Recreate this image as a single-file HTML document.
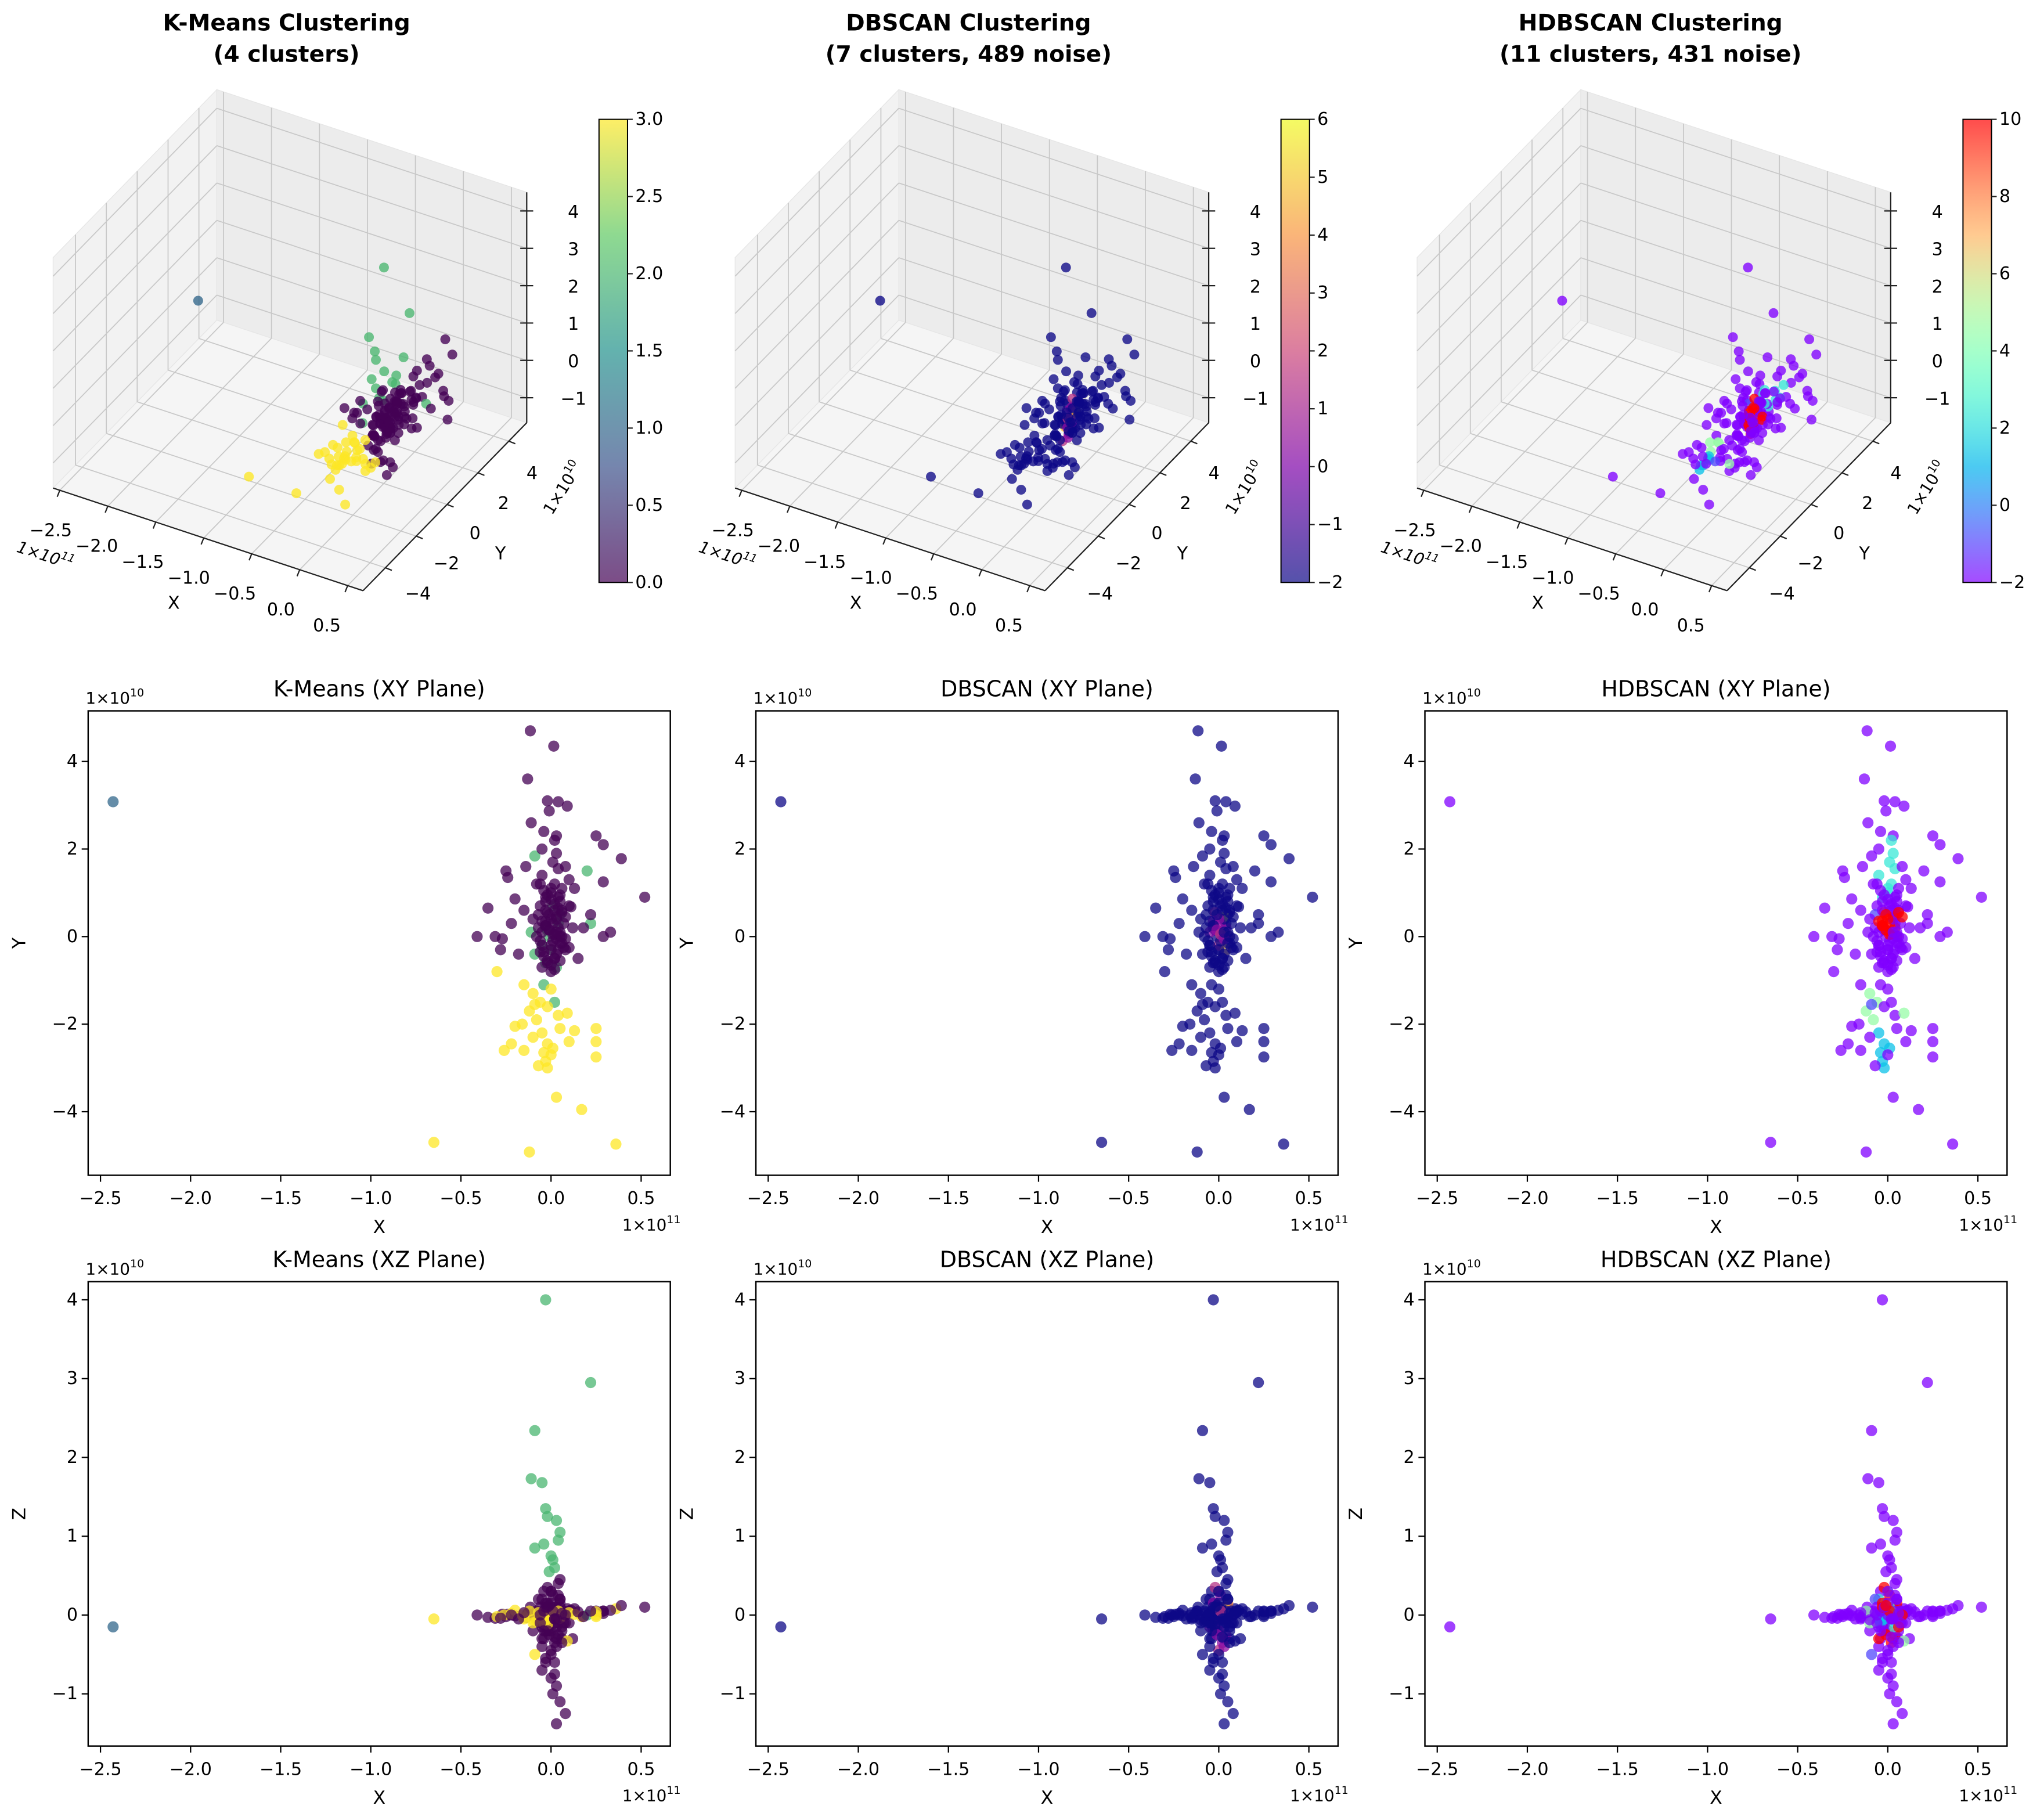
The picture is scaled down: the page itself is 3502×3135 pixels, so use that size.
<!DOCTYPE html>
<html><head><meta charset="utf-8"><title>Clustering comparison</title>
<style>html,body{margin:0;padding:0;background:#fff}svg{display:block}text{font-family:"DejaVu Sans","Liberation Sans",sans-serif;fill:#000}</style>
</head><body>
<svg id="fig" xmlns="http://www.w3.org/2000/svg" width="3502" height="3135" viewBox="0 0 1568 1403" preserveAspectRatio="none"><defs id="defs"></defs></svg>
<script>
// ---- data (x in 1e11, y and z in 1e10) ----
const xs = [-0.03,0.22,-0.09,-0.11,-0.05,-0.02,0.03,0.05,-0.04,0.00,-0.09,0.02,-0.01,0.04,-0.03,0.01,
 -2.43,-0.65,-0.12,0.36,0.17,0.03,-0.115,0.015,-0.13,-0.02,0.04,0.09,-0.01,-0.04,0.03,0.25,0.29,0.39,0.52,0.20,-0.25,-0.24,-0.14,0.29,-0.20,-0.35,-0.31,-0.41,-0.27,0.29,0.11,0.13,
 -0.05,0.02,0.00,-0.03,0.05,-0.06,0.06,-0.07,-0.02,0.03,-0.03,0.01,0.04,-0.01,0.02,0.05,-0.05,0.07,-0.07,-0.06,0.06,0.00,0.04,-0.04,0.08,-0.08,0.02,-0.02,0.05,-0.05,0.00,0.03,0.01,0.05,0.02,0.08,0.03,-0.03,0.10,0.10,0.12,-0.10,0.00,-0.03,
 0.02,0.03,0.01,0.04,0.00,-0.05,0.08,-0.08,0.10,-0.11,
 -0.30,-0.15,-0.10,-0.06,-0.12,-0.08,0.00,-0.02,0.04,-0.16,-0.05,-0.02,-0.04,-0.03,-0.02,0.01,-0.22,-0.15,-0.20,0.05,0.13,0.10,0.25,0.25,0.25,-0.26,-0.10,0.00,-0.07,-0.09,0.09,
 -0.06,-0.04,-0.02,0.00,0.02,0.04,0.06,0.08,-0.05,-0.03,-0.01,0.01,0.03,0.05,0.07,-0.06,-0.04,-0.02,0.00,0.02,0.04,0.06,-0.03,0.00,0.03,0.05,-0.05,-0.01,0.02,0.06,
 -0.22,-0.18,-0.15,0.15,0.18,0.22,0.33,-0.28];
const ys = [0.20,0.30,-0.40,0.10,-0.20,0.15,-0.70,0.50,-1.10,-0.30,1.84,-1.50,0.00,0.30,-0.60,0.70,
 3.08,-4.70,-4.92,-4.74,-3.95,-3.67,4.70,4.35,3.60,3.10,3.08,2.98,2.87,2.40,2.30,2.30,2.10,1.78,0.90,1.50,1.50,1.35,1.60,1.25,0.86,0.65,0.00,0.00,-0.05,0.00,0.68,1.10,
 1.40,1.20,1.00,0.90,0.95,0.70,0.60,0.50,0.55,0.45,0.35,0.30,0.20,0.15,0.05,0.00,0.10,0.30,0.20,-0.10,-0.15,-0.20,-0.30,-0.35,-0.05,0.00,-0.50,-0.60,-0.55,-0.70,-0.80,-0.40,-0.10,0.10,0.60,-0.30,0.40,0.80,0.70,-0.25,0.20,0.40,0.40,0.25,
 2.20,1.90,1.70,1.55,1.10,2.00,1.60,1.20,1.30,2.60,
 -0.80,-1.10,-1.30,-1.50,-1.70,-1.90,-1.20,-1.60,-1.80,-2.00,-2.20,-2.45,-2.65,-2.85,-3.00,-2.55,-2.45,-2.60,-2.05,-2.10,-2.15,-2.40,-2.10,-2.40,-2.75,-2.60,-2.30,-2.70,-2.95,-1.55,-1.75,
 1.20,1.05,0.95,0.85,0.75,0.65,0.55,0.45,0.35,0.25,0.15,0.05,-0.05,-0.15,-0.25,-0.35,-0.45,-0.55,-0.65,-0.75,0.90,1.10,0.60,-0.30,0.10,0.80,-0.20,0.50,-0.50,0.00,
 0.30,-0.40,0.60,-0.50,0.20,0.50,0.10,-0.30];
const zs = [4.00,2.95,2.34,1.73,1.68,1.25,1.20,1.05,0.90,0.75,0.85,0.60,0.55,0.95,1.35,0.70,
 -0.15,-0.05,0.05,0.08,-0.02,0.03,0.10,-0.05,0.02,0.15,-0.10,0.08,-0.20,0.30,-0.30,0.05,0.02,0.12,0.10,0.00,-0.02,0.01,-0.03,0.05,-0.01,-0.03,-0.04,0.00,0.01,0.05,0.06,0.08,
 0.20,-0.10,0.30,-0.20,0.10,0.00,-0.30,0.20,0.35,0.10,-0.10,0.25,-0.25,0.00,-0.35,0.15,-0.15,0.05,-0.05,0.10,-0.20,-0.45,0.00,-0.30,-0.10,0.05,-0.60,-0.15,0.20,-0.40,-0.80,-0.90,-1.00,-1.10,-0.75,-1.25,-1.38,-0.55,-0.10,0.05,-0.30,-0.20,-0.20,0.15,
 0.05,-0.15,0.10,-0.05,0.00,-0.10,0.00,-0.05,0.04,0.00,
 -0.02,-0.05,-0.10,0.00,0.05,-0.08,0.00,-0.12,0.05,0.00,-0.05,0.02,-0.10,0.00,-0.05,0.05,0.02,-0.03,0.06,-0.04,0.01,0.03,0.00,-0.02,0.04,0.00,-0.06,0.00,0.03,-0.50,-0.33,
 -0.10,0.05,-0.20,0.15,-0.05,0.25,-0.15,0.00,-0.30,0.10,-0.25,0.05,-0.40,0.20,-0.10,0.00,-0.20,0.10,-0.50,-0.05,0.40,-0.35,-0.60,0.30,-0.05,0.45,-0.70,0.12,-0.28,0.02,
 0.00,-0.05,0.03,0.04,-0.02,0.05,0.06,-0.04];
const kmLabels = [2,2,2,2,2,2,2,2,2,2,2,2,2,2,2,2,
 1,3,3,3,3,3,0,0,0,0,0,0,0,0,0,0,0,0,0,2,0,0,0,0,0,0,0,0,0,0,0,0,
 0,0,0,0,0,0,0,0,0,0,0,0,0,0,0,0,0,0,0,0,0,0,0,0,0,0,0,0,0,0,0,0,0,0,0,0,0,0,0,0,0,0,0,0,
 0,0,0,0,0,0,0,0,0,0,
 3,3,3,3,3,3,3,3,3,3,3,3,3,3,3,3,3,3,3,3,3,3,3,3,3,3,3,3,3,3,3,
 0,0,0,0,0,0,0,0,0,0,0,0,0,0,0,0,0,0,0,0,0,0,0,0,0,0,0,0,0,0,
 0,0,0,0,0,0,0,0];
const dbLabels = [-1,-1,-1,-1,-1,-1,-1,-1,-1,-1,-1,-1,-1,-1,-1,-1,
 -1,-1,-1,-1,-1,-1,-1,-1,-1,-1,-1,-1,-1,-1,-1,-1,-1,-1,-1,-1,-1,-1,-1,-1,-1,-1,-1,-1,-1,-1,-1,-1,
 -1,-1,-1,-1,-1,-1,-1,-1,2,6,1,1,1,2,1,4,1,-1,-1,-1,-1,2,5,-1,-1,-1,-1,-1,-1,-1,-1,-1,-1,-1,-1,-1,-1,-1,-1,-1,-1,-1,1,1,
 -1,-1,-1,-1,-1,-1,-1,-1,-1,-1,
 -1,-1,-1,-1,-1,-1,-1,-1,-1,-1,-1,-1,-1,-1,-1,-1,-1,-1,-1,-1,-1,-1,-1,-1,-1,-1,-1,-1,-1,-1,-1,
 -1,-1,-1,-1,-1,-1,-1,-1,-1,-1,1,2,1,-1,-1,-1,-1,-1,-1,-1,-1,-1,-1,-1,-1,-1,-1,-1,-1,-1,
 -1,-1,-1,-1,-1,-1,-1,-1];
const hdbLabels = [-1,-1,-1,-1,-1,-1,-1,-1,-1,-1,-1,-1,-1,-1,-1,-1,
 -1,-1,-1,-1,-1,-1,-1,-1,-1,-1,-1,-1,-1,-1,-1,-1,-1,-1,-1,-1,-1,-1,-1,-1,-1,-1,-1,-1,-1,-1,-1,-1,
 3,3,3,3,-1,-1,-1,0,10,10,10,10,10,10,10,10,-1,-1,-1,-1,-1,-1,-1,-1,-1,-1,-1,-1,-1,-1,-1,-1,-1,-1,-1,-1,-1,-1,-1,-1,-1,-1,10,10,
 3,3,3,3,3,-1,-1,-1,-1,-1,
 -1,-1,5,5,5,5,-1,-1,-1,-1,2,2,2,2,2,2,-1,-1,-1,-1,-1,-1,-1,-1,-1,-1,-1,-1,-1,0,5,
 -1,-1,-1,-1,-1,-1,10,10,10,10,10,10,-1,-1,-1,-1,-1,-1,-1,-1,-1,-1,-1,-1,-1,-1,-1,10,-1,-1,
 -1,-1,-1,-1,-1,-1,-1,-1];
const xTicks = [-2.5,-2.0,-1.5,-1.0,-0.5,0.0,0.5];
const yTicks = [-4,-2,0,2,4];
const zTicks = [-1,0,1,2,3,4];
const kmCbTicks = [0.0,0.5,1.0,1.5,2.0,2.5,3.0];
const dbCbTicks = [-2,-1,0,1,2,3,4,5,6];
const hdbCbTicks = [-2,0,2,4,6,8,10];
const methodTitles = ["K-Means Clustering","DBSCAN Clustering","HDBSCAN Clustering"];
const methodSubtitles = ["(4 clusters)","(7 clusters, 489 noise)","(11 clusters, 431 noise)"];
const methodShort = ["K-Means","DBSCAN","HDBSCAN"];

// ---- colormaps ----
function lerpStops(stops,t){t=Math.max(0,Math.min(1,t));for(let i=0;i<stops.length-1;i++){const a=stops[i],b=stops[i+1];if(t<=b[0]){const f=(t-a[0])/(b[0]-a[0]);return [0,1,2].map(k=>Math.round(a[1][k]+(b[1][k]-a[1][k])*f));}}return stops[stops.length-1][1];}
const VIR=[[0,[68,1,84]],[0.25,[59,82,139]],[0.5,[33,145,140]],[0.75,[94,201,98]],[1,[253,231,37]]];
const PLA=[[0,[13,8,135]],[0.25,[126,3,168]],[0.5,[204,71,120]],[0.75,[248,149,64]],[1,[240,249,33]]];
function rgb(a){return 'rgb('+a.join(',')+')';}
function viridis(t){return rgb(lerpStops(VIR,t));}
function plasma(t){return rgb(lerpStops(PLA,t));}
function rainbow(t){t=Math.max(0,Math.min(1,t));const c=v=>Math.round(255*Math.max(0,Math.min(1,v)));return rgb([c(Math.abs(2*t-0.5)),c(Math.sin(Math.PI*t)),c(Math.cos(Math.PI/2*t))]);}
const labelSets=[kmLabels,dbLabels,hdbLabels];
function colorFor(m,v){if(m===0)return viridis(v/3);if(m===1)return plasma((v+1)/7);return rainbow((v+1)/11);}
const cbFuncs=[viridis,plasma,rainbow];
const cbTickSets=[kmCbTicks,dbCbTicks,hdbCbTicks];
const cbRanges=[[0,3],[-2,6],[-2,10]];

const NS='http://www.w3.org/2000/svg';
const svg=document.getElementById('fig');
const defs=document.getElementById('defs');
function mk(tag,attrs,parent){const e=document.createElementNS(NS,tag);for(const k in attrs)e.setAttribute(k,attrs[k]);(parent||svg).appendChild(e);return e;}
function fmt(v,d){const s=Math.abs(v).toFixed(d);return (v<0?'\u2212':'')+s;}
function txt(x,y,s,size,anchor,parent,extra){const t=mk('text',Object.assign({x:x,y:y,'font-size':size,'text-anchor':anchor||'middle','dominant-baseline':'central'},extra||{}),parent);t.textContent=s;return t;}
function sup(t,base,exp){t.textContent='';const a=document.createElementNS(NS,'tspan');a.textContent=base;t.appendChild(a);const b=document.createElementNS(NS,'tspan');b.setAttribute('font-size','0.68em');b.setAttribute('dy','-0.45em');b.textContent=exp;t.appendChild(b);}

// ---- 3D panels ----
const B={x0:-2.57,x1:0.66,y0:-5.45,y1:5.16,z0:-1.67,z1:4.5};
const OX3=[0,526,1052];
for(let m=0;m<3;m++){
  const ox=OX3[m];
  const P=(x,y,z)=>[296+ox+x*74+y*11.9, 324.6+x*24.5-y*12.2-z*28.8];
  const g=mk('g',{});
  
  
  const tt=txt(221+ox,18,methodTitles[m],17.5,'middle',g,{'font-weight':'bold'});
  
  
  const ts=txt(221+ox,42,methodSubtitles[m],17.5,'middle',g,{'font-weight':'bold'});
  
  
  const poly=(pts,fill,name)=>{const p=mk('polygon',{points:pts.map(q=>q.join(',')).join(' '),fill:fill,stroke:'#e6e6e6','stroke-width':0.6},g);};
  poly([P(B.x0,B.y0,B.z0),P(B.x0,B.y1,B.z0),P(B.x0,B.y1,B.z1),P(B.x0,B.y0,B.z1)],'#f2f2f2','left-pane');
  poly([P(B.x0,B.y1,B.z0),P(B.x1,B.y1,B.z0),P(B.x1,B.y1,B.z1),P(B.x0,B.y1,B.z1)],'#ececec','back-pane');
  poly([P(B.x0,B.y0,B.z0),P(B.x1,B.y0,B.z0),P(B.x1,B.y1,B.z0),P(B.x0,B.y1,B.z0)],'#f5f5f5','floor-pane');
  const gl=(a,b)=>{const l=mk('line',{x1:a[0],y1:a[1],x2:b[0],y2:b[1],stroke:'#c8c8c8','stroke-width':0.8},g);};
  xTicks.forEach(x=>{gl(P(x,B.y0,B.z0),P(x,B.y1,B.z0));gl(P(x,B.y1,B.z0),P(x,B.y1,B.z1));});
  yTicks.forEach(y=>{gl(P(B.x0,y,B.z0),P(B.x1,y,B.z0));gl(P(B.x0,y,B.z0),P(B.x0,y,B.z1));});
  zTicks.forEach(z=>{gl(P(B.x0,B.y0,z),P(B.x0,B.y1,z));gl(P(B.x0,B.y1,z),P(B.x1,B.y1,z));});
  const ax=(a,b,name)=>{const l=mk('line',{x1:a[0],y1:a[1],x2:b[0],y2:b[1],stroke:'#222','stroke-width':1},g);};
  ax(P(B.x0,B.y0,B.z0),P(B.x1,B.y0,B.z0),'x-axis-line');
  ax(P(B.x1,B.y0,B.z0),P(B.x1,B.y1,B.z0),'y-axis-line');
  ax(P(B.x1,B.y1,B.z0),P(B.x1,B.y1,B.z1),'z-axis-line');
  const labs=labelSets[m];
  for(let i=0;i<xs.length;i++){
    const q=P(xs[i],ys[i],zs[i]);
    const c=mk('circle',{cx:q[0],cy:q[1],r:3.8,fill:colorFor(m,labs[i]),'fill-opacity':0.78},g);
    
    
  }
  xTicks.forEach(x=>{const q=P(x,B.y0,B.z0);ax(q,[q[0]-2,q[1]+5],'x-tick');const t=txt(q[0]-7-3*(x+2.5),q[1]+31,fmt(x,1),13.5,'middle',g);});
  yTicks.forEach(y=>{const q=P(B.x1,y,B.z0);ax(q,[q[0]+5,q[1]+2],'y-tick');const t=txt(q[0]+21.5-0.9*y,q[1]+22.5+0.6*y,fmt(y,0),13.5,'middle',g);});
  zTicks.forEach(z=>{const q=P(B.x1,B.y1,z);ax([q[0]-5,q[1]],[q[0]+5,q[1]],'z-tick');const t=txt(q[0]+36,q[1]+1,fmt(z,0),13.5,'middle',g);});
  const xl=txt(134+ox,465,'X',13.5,'middle',g);
  const yl=txt(386+ox,427,'Y',13.5,'middle',g);
  const xo=txt(35+ox,428,'',12.5,'middle',g,{transform:'rotate(18 '+(35+ox)+' 428)','font-style':'italic'});sup(xo,'1×10','11');
  const yo=txt(434+ox,376,'',12.5,'middle',g,{transform:'rotate(-58 '+(434+ox)+' 376)'});sup(yo,'1×10','10');
  const gid='cb'+m;
  const lg=mk('linearGradient',{id:gid,x1:0,y1:1,x2:0,y2:0},defs);
  for(let k=0;k<=20;k++){mk('stop',{offset:k/20,'stop-color':cbFuncs[m](k/20)},lg);}
  const cbx=462+ox, cby0=92, cby1=449;
  const cb=mk('rect',{x:cbx,y:cby0,width:22,height:cby1-cby0,fill:'url(#'+gid+')','fill-opacity':0.7,stroke:'#000','stroke-width':0.9},g);
  
  
  const r=cbRanges[m];
  cbTickSets[m].forEach(v=>{const yy=cby1-(v-r[0])/(r[1]-r[0])*(cby1-cby0);ax([cbx+22,yy],[cbx+26,yy],'colorbar-tick');const t=txt(cbx+28,yy,fmt(v,m===0?1:0),13.5,'start',g);});
}

// ---- 2D panels ----
const OX2=[0,515,1031];
const rows=[{top:548,zero:722,scale:33.75,ticks:yTicks,vals:ys,lab:'Y',plane:'XY'},{top:988,zero:1245,scale:60.75,ticks:zTicks,vals:zs,lab:'Z',plane:'XZ'}];
for(let m=0;m<3;m++){
  for(let rI=0;rI<2;rI++){
    const R=rows[rI], ox=OX2[m];
    const left=68+ox, W=449, H=358, top=R.top, bot=top+H;
    const sx=x=>425+ox+x*139;
    const sy=v=>R.zero-v*R.scale;
    const g=mk('g',{});
    
    
    const t=txt(left+W/2,top-17,methodShort[m]+' ('+R.plane+' Plane)',17,'middle',g);
    
    
    const cpId='clip'+m+'_'+rI;
    const cp=mk('clipPath',{id:cpId},defs);mk('rect',{x:left,y:top,width:W,height:H},cp);
    const pg=mk('g',{'clip-path':'url(#'+cpId+')'},g);
    const labs=labelSets[m];
    for(let i=0;i<xs.length;i++){
      const c=mk('circle',{cx:sx(xs[i]),cy:sy(R.vals[i]),r:4.3,fill:colorFor(m,labs[i]),'fill-opacity':0.75},pg);
      
      
    }
    const fr=mk('rect',{x:left,y:top,width:W,height:H,fill:'none',stroke:'#000','stroke-width':1.1},g);
    
    
    xTicks.forEach(x=>{const X=sx(x);const l=mk('line',{x1:X,y1:bot,x2:X,y2:bot+5,stroke:'#000','stroke-width':1},g);const tl=txt(X,bot+18,fmt(x,1),13.5,'middle',g);});
    R.ticks.forEach(v=>{const Y=sy(v);const l=mk('line',{x1:left-5,y1:Y,x2:left,y2:Y,stroke:'#000','stroke-width':1},g);const tl=txt(left-8,Y,fmt(v,0),13.5,'end',g);});
    const xl=txt(left+W/2,bot+40,'X',14,'middle',g);
    const yl=txt(left-53,top+H/2,R.lab,14,'middle',g,{transform:'rotate(-90 '+(left-53)+' '+(top+H/2)+')'});
    const yo=txt(left-2,top-10,'',12.5,'start',g);sup(yo,'1×10','10');
    const xo=txt(left+W+8,bot+38,'',12.5,'end',g);sup(xo,'1×10','11');
  }
}
</script>
</body></html>
